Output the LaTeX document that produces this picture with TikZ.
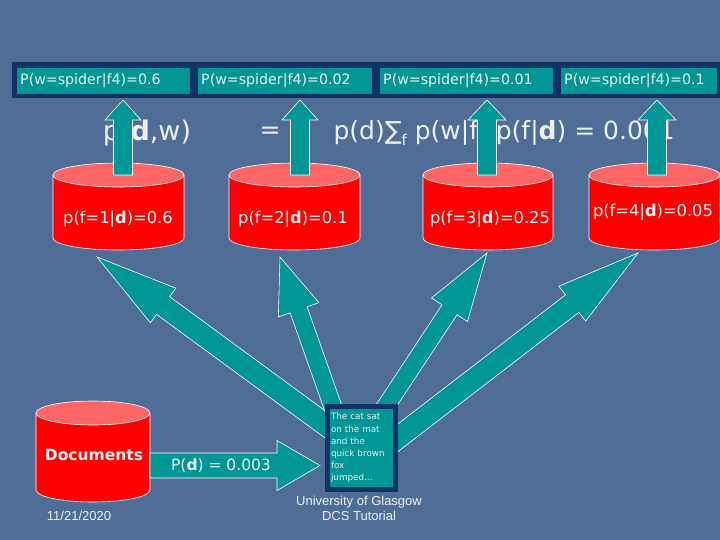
\documentclass[tikz,border=0pt]{standalone}
\usepackage{fontspec}
\setmainfont{DejaVu Sans}
\newfontfamily\arialf{Liberation Sans}
\usetikzlibrary{calc}
\definecolor{bg}{RGB}{78,110,152}
\definecolor{navy}{RGB}{16,50,100}
\definecolor{tealc}{RGB}{0,150,150}
\definecolor{cylred}{RGB}{255,0,0}
\definecolor{cyltop}{RGB}{255,102,102}
\definecolor{txt}{RGB}{236,240,242}
\tikzset{
  topbox/.style={fill=tealc, anchor=north west, minimum height=26pt, inner xsep=3pt,
     text width=#1, align=left, text=txt, font=\fontsize{14.2}{16}\selectfont},
  arrowst/.style={fill=tealc, draw=white, line width=0.6pt, line join=miter},
  cyllabel/.style={text=txt, font=\fontsize{16.3}{19}\selectfont},
  formula/.style={text=txt, font=\fontsize{25}{28}\selectfont},
  foot/.style={text=txt, font=\arialf\fontsize{13}{15}\selectfont, align=center}
}
% cylinder: name, centre x, top y, bottom y, x radius
\newcommand\drawcyl[5]{%
  \filldraw[cylred, draw=white, line width=0.6pt] (#2-#5,#3) -- (#2-#5,#4)
     arc[start angle=180, end angle=0, x radius=#5, y radius=12] -- (#2+#5,#3) -- cycle;
  \filldraw[cyltop, draw=white, line width=0.6pt] (#2,#3) ellipse[x radius=#5, y radius=12];
  \coordinate (#1-top) at (#2,#3);
  \coordinate (#1-bot) at (#2,#4+12);
}
% block arrow: start, tip, shaft half width, head half width, head length
\newcommand\blockarrow[5]{%
  \coordinate (ba-b) at ($(#2)!#5!(#1)$);
  \filldraw[arrowst] ($(#1)!#3!90:(#2)$) -- ($(ba-b)!#3!-90:(#1)$) -- ($(ba-b)!#4!-90:(#1)$)
     -- (#2) -- ($(ba-b)!#4!90:(#1)$) -- ($(ba-b)!#3!90:(#1)$) -- ($(#1)!#3!-90:(#2)$) -- cycle;
}
\begin{document}
\begin{tikzpicture}[x=1pt, y=-1pt]
\fill[bg] (0,0) rectangle (720,540);
\useasboundingbox (0,0) rectangle (720,540);

% top bar
\fill[navy] (12,62) rectangle (720,98);
\node[topbox=167pt] (w1) at (17,68) {P(w=spider|f4)=0.6};
\node[topbox=168pt] (w2) at (198,68) {P(w=spider|f4)=0.02};
\node[topbox=167pt] (w3) at (380,68) {P(w=spider|f4)=0.01};
\node[topbox=150pt] (w4) at (561,68) {P(w=spider|f4)=0.1};

% formula
\node[formula, font=\fontsize{27}{30}\selectfont] (lhs) at (147,133) {p(\textbf{d},w)};
\node[formula] (eq) at (270,133) {=};
\node[formula, anchor=west] (rhs) at (330,133) {p(d)∑\raisebox{-0.25em}{\fontsize{15}{15}\selectfont f} p(w|f) p(f|\textbf{d}) = 0.001};

% cylinders
\drawcyl{c1}{118.5}{175}{238}{65.5}
\drawcyl{c2}{294.5}{175}{238}{65.5}
\drawcyl{c3}{488}{175}{238}{65}
\drawcyl{c4}{654.5}{175}{238}{65.5}
\drawcyl{cd}{93}{413}{490}{57}

\node[cyllabel] (l1) at (118,219) {p(f=1|\textbf{d})=0.6};
\node[cyllabel] (l2) at (293,219) {p(f=2|\textbf{d})=0.1};
\node[cyllabel] (l3) at (490,219) {p(f=3|\textbf{d})=0.25};
\node[cyllabel] (l4) at (653,212) {p(f=4|\textbf{d})=0.05};
\node[cyllabel, font=\bfseries\fontsize{15.5}{18}\selectfont] (ld) at (94,455) {Documents};

% up arrows
\coordinate (u1s) at (123,175); \coordinate (u1t) at (123,100);
\coordinate (u2s) at (300,175); \coordinate (u2t) at (300,100);
\coordinate (u3s) at (487,175); \coordinate (u3t) at (487,100);
\coordinate (u4s) at (657,175); \coordinate (u4t) at (657,100);
\blockarrow{u1s}{u1t}{9.5pt}{18pt}{20pt}
\blockarrow{u2s}{u2t}{9.5pt}{18pt}{20pt}
\blockarrow{u3s}{u3t}{9.5pt}{19pt}{20pt}
\blockarrow{u4s}{u4t}{9.5pt}{19pt}{20pt}

% fan arrows from the text box
\coordinate (f1s) at (360,450); \coordinate (f1t) at (97,257);
\coordinate (f2s) at (348,450); \coordinate (f2t) at (280,257);
\coordinate (f3s) at (357,450); \coordinate (f3t) at (487,253);
\coordinate (f4s) at (382,450); \coordinate (f4t) at (638,253);
\blockarrow{f1s}{f1t}{11pt}{21.5pt}{82pt}
\blockarrow{f2s}{f2t}{9pt}{21.5pt}{56pt}
\blockarrow{f3s}{f3t}{9pt}{21.5pt}{68pt}
\blockarrow{f4s}{f4t}{11pt}{22pt}{83pt}

% text box
\node[fill=tealc, draw=navy, line width=5pt, minimum width=68pt, minimum height=83pt,
      text=txt, align=left, inner sep=2pt, text width=60pt,
      font=\fontsize{8.8}{12.2}\selectfont] (doc) at (361,448)
  {The cat sat\\on the mat\\and the\\quick brown\\fox\\jumped...};

% left arrow
\coordinate (las) at (150,465.5); \coordinate (lat) at (320,465.5);
\blockarrow{las}{lat}{12.5pt}{25pt}{43pt}
\node[cyllabel, font=\fontsize{15.5}{18}\selectfont] (pd) at (221,466) {P(\textbf{d}) = 0.003};

% footer
\node[foot] (date) at (79,516) {11/21/2020};
\node[foot] (uni) at (359,508) {University of Glasgow\\DCS Tutorial};
\end{tikzpicture}
\end{document}
